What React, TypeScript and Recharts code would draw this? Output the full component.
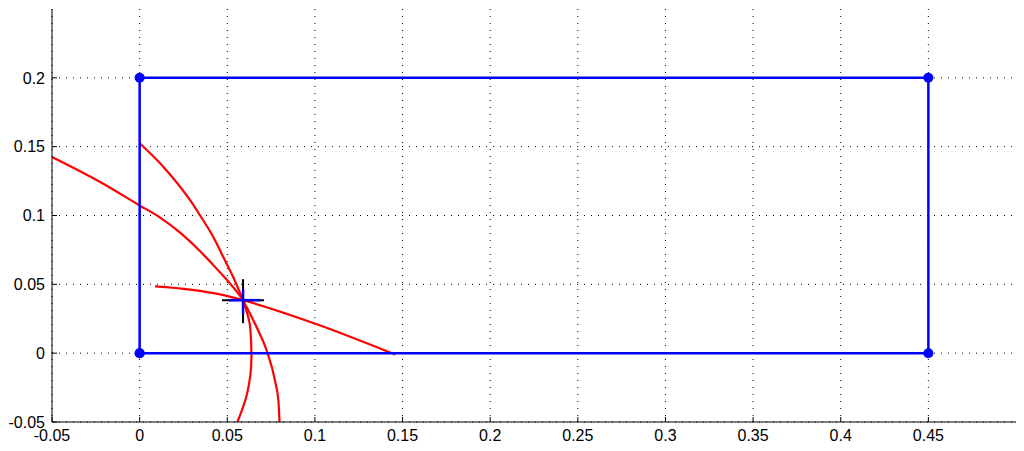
import React from 'react';
import {
  ComposedChart,
  Line,
  Scatter,
  XAxis,
  YAxis,
  CartesianGrid,
} from 'recharts';

// axis ticks
const xTicks = [-0.05, 0, 0.05, 0.1, 0.15, 0.2, 0.25, 0.3, 0.35, 0.4, 0.45];
const yTicks = [-0.05, 0, 0.05, 0.1, 0.15, 0.2];

// room outline (anchors at the corners)
const room = [
  { x: 0, y: 0 },
  { x: 0.45, y: 0 },
  { x: 0.45, y: 0.2 },
  { x: 0, y: 0.2 },
  { x: 0, y: 0 },
];

// red location curves
const curveA = [
  { x: -0.05, y: 0.1425 },
  { x: -0.0225, y: 0.1243 },
  { x: 0, y: 0.1073 },
  { x: 0.0117, y: 0.0985 },
  { x: 0.0231, y: 0.0875 },
  { x: 0.0345, y: 0.074 },
  { x: 0.046, y: 0.0585 },
  { x: 0.0555, y: 0.0445 },
  { x: 0.059, y: 0.0385 },
];
const curveB = [
  { x: 0, y: 0.1525 },
  { x: 0.0136, y: 0.1353 },
  { x: 0.0289, y: 0.1109 },
  { x: 0.0345, y: 0.1 },
  { x: 0.0421, y: 0.0842 },
  { x: 0.0478, y: 0.0696 },
  { x: 0.0535, y: 0.055 },
  { x: 0.059, y: 0.0385 },
];
const curveC1 = [
  { x: 0.059, y: 0.0385 },
  { x: 0.0631, y: 0.0185 },
  { x: 0.0638, y: -0.002 },
  { x: 0.0612, y: -0.0301 },
  { x: 0.0558, y: -0.05 },
];
const curveC2 = [
  { x: 0.059, y: 0.0385 },
  { x: 0.0669, y: 0.0185 },
  { x: 0.0726, y: 0.0015 },
  { x: 0.0773, y: -0.0204 },
  { x: 0.0792, y: -0.035 },
  { x: 0.0798, y: -0.05 },
];
const curveD = [
  { x: 0.0088, y: 0.0485 },
  { x: 0.0288, y: 0.0462 },
  { x: 0.0478, y: 0.0422 },
  { x: 0.059, y: 0.0385 },
  { x: 0.1011, y: 0.021 },
  { x: 0.1458, y: -0.001 },
];

// estimated position
const estimate = [{ x: 0.059, y: 0.0385 }];

const curves = [
  { data: curveA, type: 'monotoneX' },
  { data: curveB, type: 'monotoneX' },
  { data: curveC1, type: 'monotoneY' },
  { data: curveC2, type: 'monotoneX' },
  { data: curveD, type: 'monotoneX' },
];

const Crosshair = (props: any) => {
  const { cx, cy } = props;
  if (cx == null || cy == null) return null;
  return (
    <g>
      <line x1={cx - 21} y1={cy} x2={cx + 21} y2={cy} stroke="#000" strokeWidth={2} />
      <line x1={cx} y1={cy - 21} x2={cx} y2={cy + 23} stroke="#000" strokeWidth={2} />
      <line x1={cx - 14} y1={cy} x2={cx + 17} y2={cy} stroke="#0000ff" strokeWidth={2.5} />
      <line x1={cx} y1={cy - 11} x2={cx} y2={cy + 14} stroke="#0000ff" strokeWidth={2.5} />
    </g>
  );
};

const tickStyle = { fill: '#000', fontSize: 16 };

export default function App() {
  return (
    <div
      style={{
        position: 'absolute',
        left: 0,
        top: 0,
        width: 1024,
        height: 451,
        background: '#fff',
        fontFamily: '"Liberation Sans", Arial, sans-serif',
      }}
    >
      <ComposedChart
        width={1024}
        height={451}
        margin={{ top: 9, right: 8, left: 0, bottom: 0 }}
      >
        <CartesianGrid
          stroke="#000"
          strokeDasharray="1 6"
          horizontalValues={yTicks}
          verticalValues={xTicks}
        />
        <XAxis
          type="number"
          dataKey="x"
          domain={[-0.05, 0.5]}
          ticks={xTicks}
          interval={0}
          allowDataOverflow
          height={29}
          tickSize={-5}
          tickMargin={13}
          tick={tickStyle}
          axisLine={{ stroke: '#000' }}
          tickLine={{ stroke: '#000' }}
        />
        <XAxis
          xAxisId="top"
          orientation="top"
          type="number"
          dataKey="x"
          domain={[-0.05, 0.5]}
          ticks={xTicks}
          interval={0}
          allowDataOverflow
          height={0}
          tickSize={-5}
          tick={false}
          axisLine={{ stroke: '#000' }}
          tickLine={{ stroke: '#000' }}
        />
        <YAxis
          type="number"
          dataKey="y"
          domain={[-0.05, 0.25]}
          ticks={yTicks}
          interval={0}
          allowDataOverflow
          width={52}
          tickSize={-5}
          tickMargin={12}
          tick={tickStyle}
          axisLine={{ stroke: '#000' }}
          tickLine={{ stroke: '#000' }}
        />
        <YAxis
          yAxisId="right"
          orientation="right"
          type="number"
          dataKey="y"
          domain={[-0.05, 0.25]}
          ticks={yTicks}
          interval={0}
          allowDataOverflow
          width={0}
          tickSize={-5}
          tick={false}
          axisLine={{ stroke: '#000' }}
          tickLine={{ stroke: '#000' }}
        />
        {curves.map((c, i) => (
          <Line
            key={'c' + i}
            data={c.data}
            dataKey="y"
            type={c.type as any}
            stroke="#ff0000"
            strokeWidth={2.2}
            dot={false}
            isAnimationActive={false}
          />
        ))}
        <Line
          data={room}
          dataKey="y"
          type="linear"
          stroke="#0000ff"
          strokeWidth={2.5}
          dot={{ r: 5, fill: '#0000ff', stroke: '#0000ff', strokeWidth: 0 }}
          isAnimationActive={false}
        />
        <Scatter
          data={estimate}
          dataKey="y"
          shape={<Crosshair />}
          isAnimationActive={false}
        />
      </ComposedChart>
    </div>
  );
}
